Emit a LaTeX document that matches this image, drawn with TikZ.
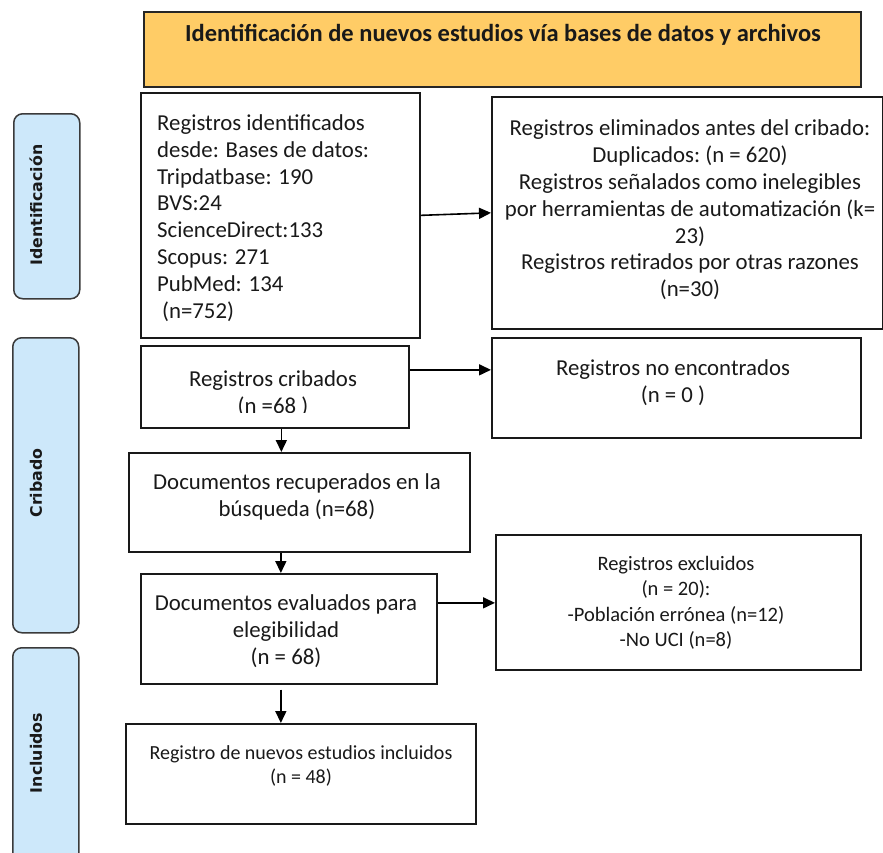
\documentclass[tikz,border=0pt]{standalone}
\usepackage{fontspec}
\setmainfont{Carlito}
\newfontfamily\labfont{DejaVu Sans}
\usetikzlibrary{arrows.meta}
\definecolor{titlefill}{HTML}{FFCC66}
\definecolor{sidefill}{HTML}{CDE8FA}
\definecolor{sideline}{HTML}{3A3A3A}
\begin{document}
\begin{tikzpicture}[x=1pt,y=-1pt,
  box/.style={draw=black!90, line width=1.7pt, inner sep=0pt, anchor=north west},
  side/.style={draw=sideline, fill=sidefill, line width=1.5pt, rounded corners=9pt, inner sep=0pt, anchor=north west},
  txt/.style={font=\fontsize{22.8}{26.8}\selectfont, align=center, inner sep=0pt, text=black!90},
  smalltxt/.style={font=\fontsize{20.5}{25.5}\selectfont, align=center, inner sep=0pt, text=black!90},
  sidetxt/.style={font=\labfont\bfseries\fontsize{15.8}{18}\selectfont, text=black!90, rotate=90, inner sep=0pt},
  arr/.style={-{Triangle[length=12pt,width=11pt]}, line width=1.6pt}]
\useasboundingbox (0,0) rectangle (883,852);

% side labels
\node[side, minimum width=66, minimum height=185] (s1) at (13,113) {};
\node[side, minimum width=66, minimum height=295] (s2) at (12,337) {};
\node[side, minimum width=66, minimum height=225] (s3) at (12,647) {};
\node[sidetxt] (ls1) at (36,205) {Identificación};
\node[sidetxt] (ls2) at (36,483) {Cribado};
\node[sidetxt] (ls3) at (36,753) {Incluidos};

% title
\node[box, draw=black!85, fill=titlefill, minimum width=717, minimum height=75] (title) at (143,11) {};
\node[font=\bfseries\fontsize{24.5}{28}\selectfont, inner sep=0pt, text=black!90] (ttl) at (503,35) {Identificación de nuevos estudios vía bases de datos y archivos};

% boxes
\node[box, minimum width=279, minimum height=245] (b1) at (140,92) {};
\node[box, minimum width=391, minimum height=232] (b2) at (491,96) {};
\node[box, minimum width=268, minimum height=82] (b3) at (140,345) {};
\node[box, minimum width=369, minimum height=100] (b4) at (491,337) {};
\node[box, minimum width=341, minimum height=99] (b5) at (128,452) {};
\node[box, minimum width=296, minimum height=110] (b6) at (140,573) {};
\node[box, minimum width=365, minimum height=135] (b7) at (495,534) {};
\node[box, minimum width=350, minimum height=100] (b8) at (125,723) {};

% texts
\node[txt, align=left, anchor=west] (t1) at (157,218) {Registros identificados\\desde: Bases de datos:\\Tripdatbase: 190\\BVS:24\\ScienceDirect:133\\Scopus: 271\\PubMed: 134\\\hspace*{5pt}(n=752)};
\node[txt] (t2) at (690,210) {Registros eliminados antes del cribado:\\Duplicados:\ (n = 620)\\Registros señalados como inelegibles\\por herramientas de automatización (k=\\23)\\Registros retirados por otras razones\\(n=30)};
\begin{scope}
\clip (140,345) rectangle (408,412);
\node[txt] (t3) at (273,394) {Registros cribados\\(n =68 )};
\end{scope}
\node[txt] (t4) at (673,383) {Registros no encontrados\\(n = 0 )};
\node[txt] (t5) at (297,497) {Documentos\ recuperados\ en la\\búsqueda\ (n=68)};
\node[txt] (t6) at (286,631) {Documentos\ evaluados para\\elegibilidad\\(n = 68)};
\node[smalltxt] (t7) at (676,603) {Registros excluidos\\(n = 20):\\-Población errónea (n=12)\\-No UCI (n=8)};
\node[smalltxt, font=\fontsize{20}{24.4}\selectfont] (t8) at (301,766) {Registro de nuevos estudios incluidos\\(n = 48)};

% connectors
\draw[arr] (b1.east) -- (b2.west);
\draw[arr] ([yshift=17pt]b3.east) -- ([yshift=17pt]b3.east -| b4.west);
\draw[arr] ([xshift=6.5pt]b3.south) -- ([xshift=6.5pt]b3.south |- b5.north);
\draw[arr] ([xshift=-18.5pt]b5.south) -- ([xshift=-18.5pt]b5.south |- b6.north);
\draw[arr] ([yshift=26pt]b6.east) -- ([yshift=26pt]b6.east -| b7.west);
\draw[arr] ([xshift=-8pt,yshift=-5pt]b6.south) -- ([xshift=-8pt]b6.south |- b8.north);
\end{tikzpicture}
\end{document}
